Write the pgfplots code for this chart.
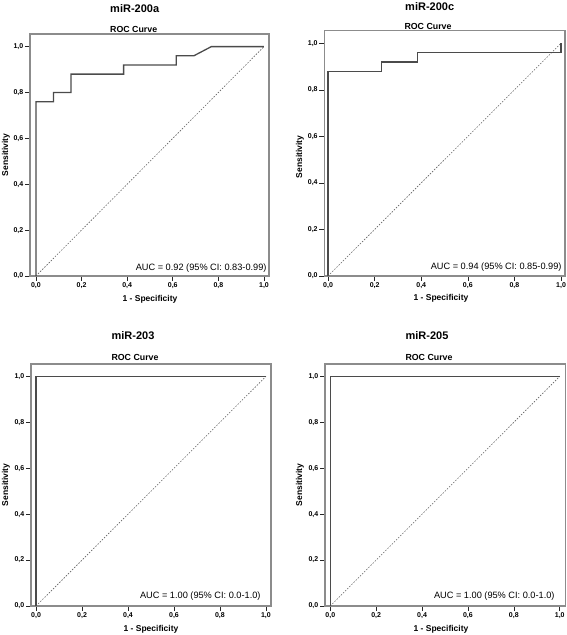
\documentclass[border=0pt]{standalone}
\usepackage{fontspec}
\setmainfont{Liberation Sans}
\usepackage{pgfplots}
\pgfplotsset{compat=1.18}
\definecolor{framegray}{RGB}{140,140,140}
\definecolor{curvegray}{RGB}{75,75,75}
\definecolor{diaggray}{RGB}{100,100,100}
\pgfplotsset{rocstyle/.style={
  scale only axis,
  anchor=north west,
  ymin=0,
  xtick={0,0.2,0.4,0.6,0.8,1.0},
  ytick={0,0.2,0.4,0.6,0.8,1.0},
  tick align=outside, xtick pos=bottom, ytick pos=left,
  major tick length=5pt,
  major tick style={black!85, line width=0.6pt},
  axis line style={framegray, line width=1.2pt},
  tick label style={font=\fontsize{7}{8}\selectfont\bfseries, inner sep=1.5pt},
  /pgf/number format/fixed,
  /pgf/number format/fixed zerofill,
  /pgf/number format/precision=1,
  /pgf/number format/use comma,
  /pgf/number format/assume math mode=true,
}}
\tikzset{
  ttl/.style={font=\fontsize{11}{12}\selectfont\bfseries, inner sep=0pt},
  roc/.style={font=\fontsize{8.8}{10}\selectfont\bfseries, inner sep=0pt},
  lab/.style={font=\fontsize{8.5}{10}\selectfont\bfseries, inner sep=0pt},
  auc/.style={font=\fontsize{9.2}{10}\selectfont, inner sep=0pt, anchor=east},
}
\pgfplotstableread{
x y
0 0
0 0.76
0.0769 0.76
0.0769 0.80
0.1538 0.80
0.1538 0.88
0.3846 0.88
0.3846 0.92
0.6154 0.92
0.6154 0.96
0.6923 0.96
0.7692 1.00
1.0 1.00
}\rocA
\pgfplotstableread{
x y
0 0
0 0.88
0.2308 0.88
0.2308 0.92
0.3846 0.92
0.3846 0.96
1.0 0.96
1.0 1.00
}\rocB
\pgfplotstableread{
x y
0 0
0 1.00
1.0 1.00
}\rocC
\pgfplotstableread{
x y
0 0
0 1.00
1.0 1.00
}\rocD
\begin{document}
\begin{tikzpicture}[x=1pt,y=1pt]
\useasboundingbox (0,0) rectangle (567,-635);
% Panel A
\begin{axis}[rocstyle, at={(30pt,-34pt)}, width=239pt, height=242pt,
  xmin=-0.026, xmax=1.022, ymax=1.055]
\addplot[diaggray, line width=0.6pt, dash pattern=on 1.5pt off 1.5pt] coordinates {(0,0) (1,1)};
\addplot[curvegray, line width=1.3pt] table[x=x,y=y] {\rocA};
\end{axis}
% Panel B
\begin{axis}[rocstyle, at={(324.3pt,-30.7pt)}, width=240.7pt, height=245.3pt,
  xmin=-0.016, xmax=1.017, ymax=1.054]
\addplot[diaggray, line width=0.6pt, dash pattern=on 1.5pt off 1.5pt] coordinates {(0,0) (1,1)};
\addplot[curvegray, line width=1.3pt] table[x=x,y=y] {\rocB};
\end{axis}
% Panel C
\begin{axis}[rocstyle, at={(31pt,-364pt)}, width=240pt, height=242pt,
  xmin=-0.022, xmax=1.022, ymax=1.054]
\addplot[diaggray, line width=0.6pt, dash pattern=on 1.5pt off 1.5pt] coordinates {(0,0) (1,1)};
\addplot[curvegray, line width=1.3pt] table[x=x,y=y] {\rocC};
\end{axis}
% Panel D
\begin{axis}[rocstyle, at={(325pt,-364pt)}, width=240.7pt, height=242pt,
  xmin=-0.023, xmax=1.026, ymax=1.054]
\addplot[diaggray, line width=0.6pt, dash pattern=on 1.5pt off 1.5pt] coordinates {(0,0) (1,1)};
\addplot[curvegray, line width=1.3pt] table[x=x,y=y] {\rocD};
\end{axis}
% titles
\node[ttl] at (134.7,-8.5) {miR-200a};
\node[roc] at (133.7,-29) {ROC Curve};
\node[ttl] at (429.7,-7) {miR-200c};
\node[roc] at (428,-26.5) {ROC Curve};
\node[ttl] at (133,-336) {miR-203};
\node[roc] at (135,-357) {ROC Curve};
\node[ttl] at (427,-336) {miR-205};
\node[roc] at (429,-357) {ROC Curve};
% axis labels
\node[lab, rotate=90] at (6,-155) {Sensitivity};
\node[lab, rotate=90] at (300,-157) {Sensitivity};
\node[lab, rotate=90] at (6,-485) {Sensitivity};
\node[lab, rotate=90] at (300,-485) {Sensitivity};
\node[lab] at (150,-299) {1 - Specificity};
\node[lab] at (441,-298) {1 - Specificity};
\node[lab] at (151,-629) {1 - Specificity};
\node[lab] at (441,-629) {1 - Specificity};
% AUC
\node[auc] at (266.7,-268.3) {AUC = 0.92 (95\% CI: 0.83-0.99)};
\node[auc] at (561.7,-266.7) {AUC = 0.94 (95\% CI: 0.85-0.99)};
\node[auc] at (260.7,-596) {AUC = 1.00 (95\% CI: 0.0-1.0)};
\node[auc] at (554.7,-596) {AUC = 1.00 (95\% CI: 0.0-1.0)};
\end{tikzpicture}
\end{document}
